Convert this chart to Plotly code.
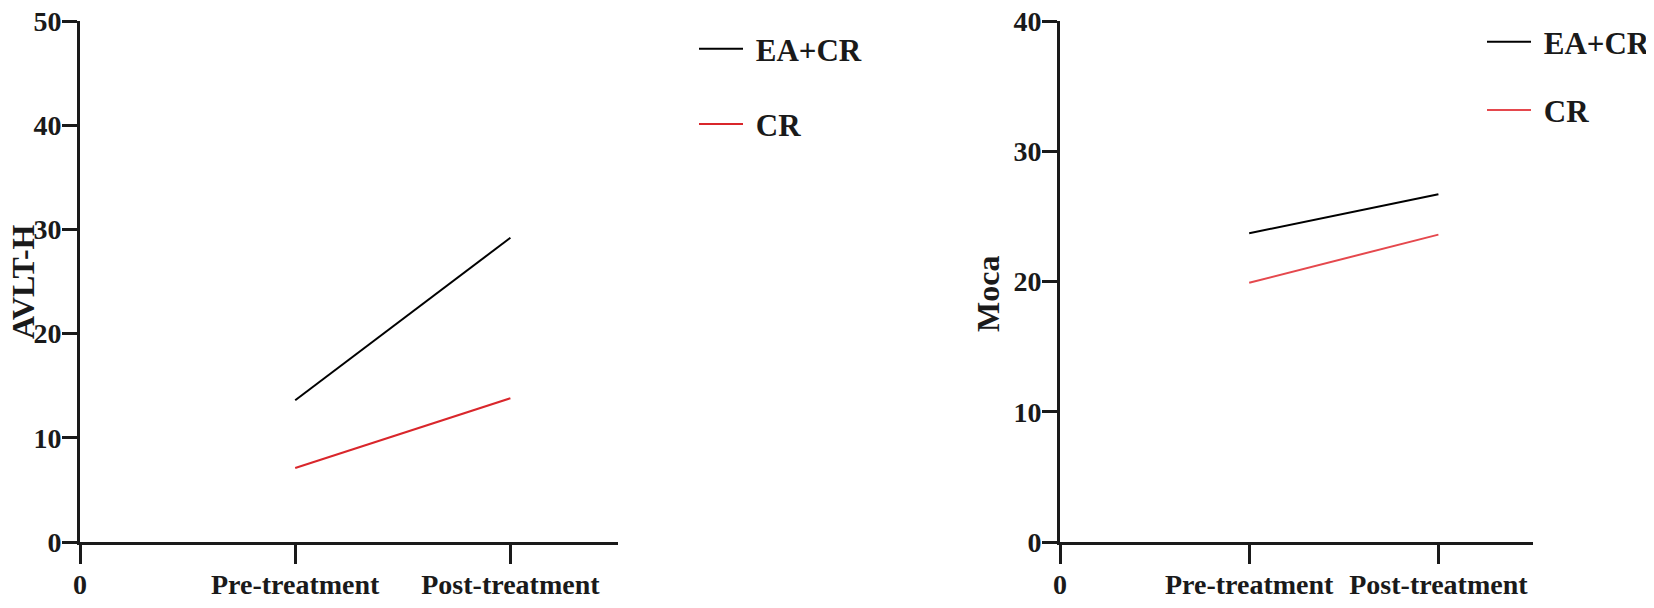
import plotly.graph_objects as go

# dados
stages = ["Pre-treatment", "Post-treatment"]
avlt_ea_cr = [13.6, 29.2]
avlt_cr = [7.1, 13.8]
moca_ea_cr = [23.7, 26.7]
moca_cr = [19.9, 23.6]

x_ticks = ["0"] + stages
x_pos = [i + 1 for i in range(len(stages))]

W, H = 1654, 608
OFF = 8  # margem padrão do <body> na página
FONT = "Liberation Serif"
BLACK = "#1a1a1a"
NB = "\u00a0"

def px_x(p):
    return (p - OFF) / W

def px_y(p):
    return 1 - (p - OFF) / H

fig = go.Figure()

fig.add_trace(go.Scatter(x=x_pos, y=avlt_ea_cr, mode="lines", name=NB + "EA+CR",
                         line=dict(color="black", width=2), legendgroup="a1",
                         xaxis="x", yaxis="y", legend="legend"))
fig.add_trace(go.Scatter(x=x_pos, y=avlt_cr, mode="lines", name=NB + "CR",
                         line=dict(color="#d9262b", width=2), legendgroup="a2",
                         xaxis="x", yaxis="y", legend="legend"))
fig.add_trace(go.Scatter(x=x_pos, y=moca_ea_cr, mode="lines", name=NB + "EA+CR",
                         line=dict(color="black", width=2), legendgroup="b1",
                         xaxis="x2", yaxis="y2", legend="legend2"))
fig.add_trace(go.Scatter(x=x_pos, y=moca_cr, mode="lines", name=NB + "CR",
                         line=dict(color="#e5484d", width=2), legendgroup="b2",
                         xaxis="x2", yaxis="y2", legend="legend2"))

tick_font = dict(family=FONT, size=28, color=BLACK, weight="bold")

def x_axis(domain, anchor):
    return dict(domain=domain, anchor=anchor, range=[0, 2.5],
                tickvals=[0] + x_pos, ticktext=x_ticks,
                showline=True, linecolor=BLACK, linewidth=3,
                ticks="outside", ticklen=19, tickwidth=3, tickcolor=BLACK,
                tickfont=tick_font, showgrid=False, zeroline=False,
                ticklabelstandoff=-4, ticklabeloverflow="allow",
                automargin=False)

def y_axis(domain, anchor, top):
    return dict(domain=domain, anchor=anchor, range=[0, top], dtick=10,
                showline=True, linecolor=BLACK, linewidth=3,
                ticks="outside", ticklen=15, tickwidth=3, tickcolor=BLACK,
                tickfont=tick_font, showgrid=False, zeroline=False,
                ticklabelstandoff=-5, ticklabeloverflow="allow",
                automargin=False)

y_dom = [px_y(542), px_y(21)]

def legend_style(gap):
    return dict(font=dict(family=FONT, size=31, color=BLACK, weight="bold"),
                bgcolor="rgba(0,0,0,0)", tracegroupgap=gap,
                xanchor="left", yanchor="top", itemwidth=44)

title_font = dict(family=FONT, size=32, color=BLACK, weight="bold")

fig.update_layout(
    width=W, height=H,
    margin=dict(l=0, r=0, t=0, b=0),
    paper_bgcolor="white", plot_bgcolor="white",
    xaxis=x_axis([px_x(80), px_x(618)], "y"),
    yaxis=y_axis(y_dom, "x", 50),
    xaxis2=x_axis([px_x(1060), px_x(1533)], "y2"),
    yaxis2=y_axis(y_dom, "x2", 40),
    legend=dict(x=px_x(694), y=px_y(22), **legend_style(32)),
    legend2=dict(x=px_x(1482), y=px_y(15), **legend_style(25)),
    annotations=[
        dict(text="AVLT-H", x=px_x(23), y=px_y(282), xref="paper", yref="paper",
             xanchor="center", yanchor="middle", textangle=-90, showarrow=False,
             font=title_font),
        dict(text="Moca", x=px_x(988), y=px_y(294), xref="paper", yref="paper",
             xanchor="center", yanchor="middle", textangle=-90, showarrow=False,
             font=title_font),
    ],
)

fig.write_html("out.html")
